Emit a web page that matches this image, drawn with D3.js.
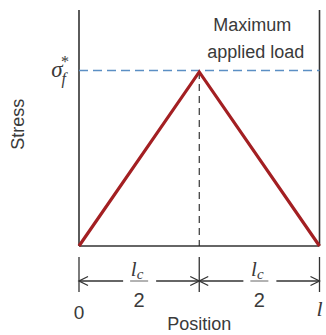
<!DOCTYPE html>
<html>
<head>
<meta charset="utf-8">
<script src="https://cdn.jsdelivr.net/npm/d3@7"></script>
<style>
  body { margin: 0; background: #fff; }
  text { font-family: "Liberation Sans", Arial, sans-serif; fill: #3a3a3a; }
  .ital { font-family: "Liberation Serif", "Times New Roman", serif; font-style: italic; }
</style>
</head>
<body>
<div id="chart"></div>
<script>
// Data: position as a fraction of fiber length l, stress relative to sigma_f*
const positions = [0, 0.5, 1];
const stress = [0, 1, 0];
const maxStress = 1;
const yTop = 1.356;          // top of the stress axis
const dimMarks = [0, 0.5, 1]; // tick positions of the lc/2 dimension lines

const W = 326, H = 335;
const margin = { top: 10, right: 5, bottom: 89, left: 79 };
const width = W - margin.left - margin.right;
const height = H - margin.top - margin.bottom;

const svg = d3.select('#chart')
    .append('svg')
    .attr('width', W)
    .attr('height', H);

const g = svg.append('g')
    .attr('transform', `translate(${margin.left},${margin.top})`);

const x = d3.scaleLinear().domain([0, 1]).range([0, width - 1.5]);
const y = d3.scaleLinear().domain([0, yTop]).range([height, 0]);

// Axes frame: left, bottom, right border
g.append('line')
    .attr('x1', x(0)).attr('x2', x(0))
    .attr('y1', y(yTop)).attr('y2', y(0))
    .attr('stroke', '#333').attr('stroke-width', 1.6);
g.append('line')
    .attr('x1', x(1)).attr('x2', x(1))
    .attr('y1', y(yTop)).attr('y2', y(0))
    .attr('stroke', '#333').attr('stroke-width', 1.6);
g.append('line')
    .attr('x1', x(0)).attr('x2', x(1))
    .attr('y1', y(0)).attr('y2', y(0))
    .attr('stroke', '#333').attr('stroke-width', 1.6);

// Maximum applied load line
g.append('line')
    .attr('x1', x(0)).attr('x2', x(1))
    .attr('y1', y(maxStress) - 1.5).attr('y2', y(maxStress) - 1.5)
    .attr('stroke', '#5b8fc4').attr('stroke-width', 1.6)
    .attr('stroke-dasharray', '9,5');

// Vertical dashed at peak
g.append('line')
    .attr('x1', x(0.5)).attr('x2', x(0.5))
    .attr('y1', y(maxStress)).attr('y2', y(0))
    .attr('stroke', '#222').attr('stroke-width', 1.1)
    .attr('stroke-dasharray', '7,5');

// Stress profile
const line = d3.line()
    .x((d, i) => x(positions[i]))
    .y(d => y(d));

g.append('path')
    .datum(stress)
    .attr('fill', 'none')
    .attr('stroke', '#a31f22')
    .attr('stroke-width', 3.2)
    .attr('stroke-linejoin', 'miter')
    .attr('d', line);

// Maximum applied load label
const lab = g.append('text')
    .attr('text-anchor', 'middle')
    .style('font-size', '18px');
lab.append('tspan').attr('x', x(0.72)).attr('y', y(yTop) + 21).text('Maximum');
lab.append('tspan').attr('x', x(0.735)).attr('y', y(yTop) + 48).text('applied load');

// sigma_f* label
const sig = g.append('text')
    .attr('class', 'ital')
    .attr('x', -10)
    .attr('y', y(maxStress) + 5)
    .attr('text-anchor', 'end')
    .style('font-size', '23px');
sig.append('tspan').text('σ');
sig.append('tspan').attr('dy', 7).attr('dx', -1).style('font-size', '16px').text('f');
sig.append('tspan').attr('dy', -17).attr('dx', -5).style('font-size', '16px')
    .style('font-style', 'normal').text('*');

// Stress axis label
g.append('text')
    .attr('transform', `translate(${-margin.left + 24},${y(0.7)}) rotate(-90)`)
    .attr('text-anchor', 'middle')
    .style('font-size', '18px')
    .text('Stress');

// Dimension lines below the axis
const dimY = height + 35;
const tickTop = height + 11, tickBot = height + 46;
const dg = g.append('g').attr('stroke', '#333').attr('stroke-width', 1.3).attr('fill', 'none');

dimMarks.forEach(m => {
    dg.append('line')
        .attr('x1', x(m)).attr('x2', x(m))
        .attr('y1', tickTop).attr('y2', tickBot);
});

function arrowHead(px, dir) {
    dg.append('path')
        .attr('d', `M${px - dir * 9},${dimY - 4.5} L${px},${dimY} L${px - dir * 9},${dimY + 4.5}`);
}

for (let i = 0; i < dimMarks.length - 1; i++) {
    const a = x(dimMarks[i]), b = x(dimMarks[i + 1]);
    const mid = (a + b) / 2;
    dg.append('line').attr('x1', a).attr('x2', mid - 16).attr('y1', dimY).attr('y2', dimY);
    dg.append('line').attr('x1', mid + 17).attr('x2', b).attr('y1', dimY).attr('y2', dimY);
    arrowHead(a, -1);
    arrowHead(b, 1);

    // lc / 2 fraction
    const num = g.append('text')
        .attr('class', 'ital')
        .attr('x', mid - 2)
        .attr('y', dimY - 5)
        .attr('text-anchor', 'middle')
        .style('font-size', '21px');
    num.append('tspan').text('l');
    num.append('tspan').attr('dy', 3).style('font-size', '15px').text('c');
    g.append('line')
        .attr('x1', mid - 9).attr('x2', mid + 9)
        .attr('y1', dimY).attr('y2', dimY)
        .attr('stroke', '#555').attr('stroke-width', 0.9);
    g.append('text')
        .attr('x', mid)
        .attr('y', dimY + 26)
        .attr('text-anchor', 'middle')
        .style('font-size', '20px')
        .text('2');
}

// Position end labels
g.append('text')
    .attr('x', x(0))
    .attr('y', height + 73)
    .attr('text-anchor', 'middle')
    .style('font-size', '19px')
    .text('0');
g.append('text')
    .attr('class', 'ital')
    .attr('x', x(1))
    .attr('y', height + 70)
    .attr('text-anchor', 'middle')
    .style('font-size', '22px')
    .text('l');

// Position axis label
g.append('text')
    .attr('x', x(0.5))
    .attr('y', height + 84)
    .attr('text-anchor', 'middle')
    .style('font-size', '18px')
    .text('Position');
</script>
</body>
</html>
